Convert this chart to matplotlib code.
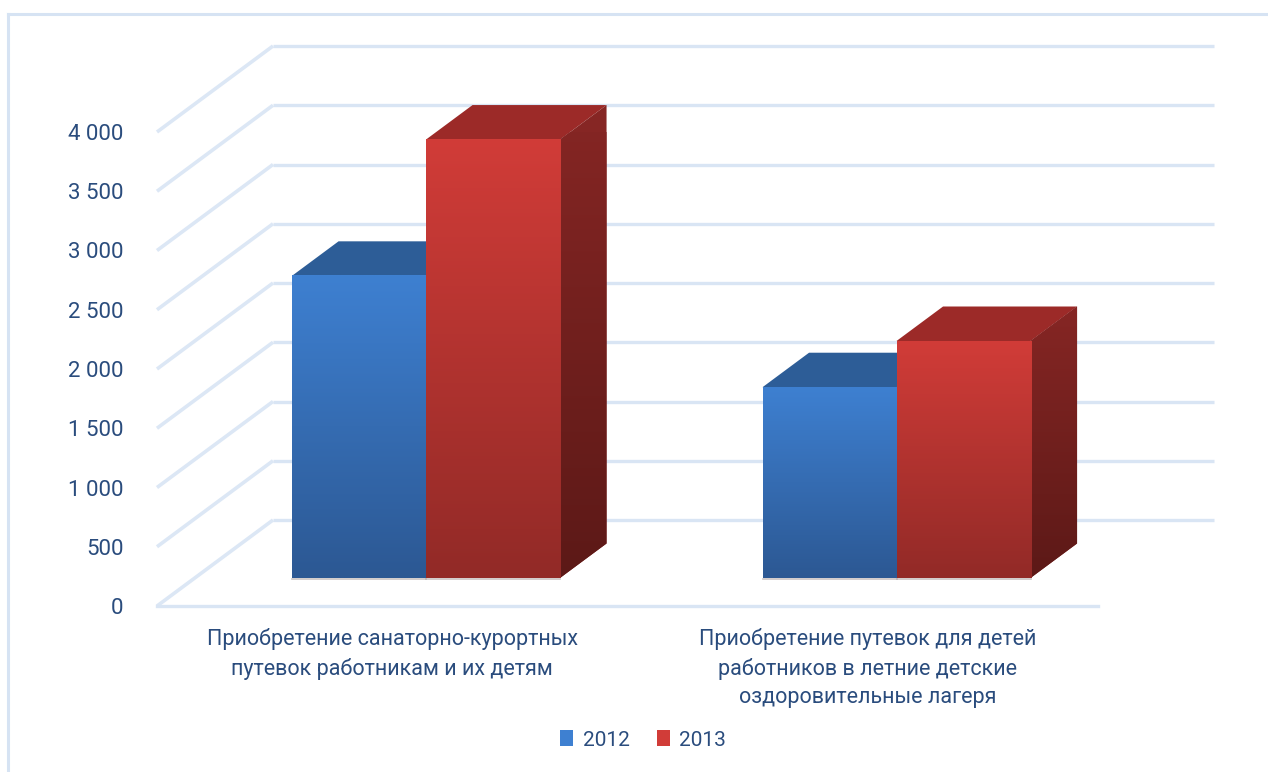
import numpy as np
import matplotlib
matplotlib.use("Agg")
import matplotlib.pyplot as plt
from matplotlib.patches import Polygon, Patch
from matplotlib.lines import Line2D
from matplotlib.colors import to_rgb

plt.rcParams["font.family"] = ["Roboto", "DejaVu Sans"]

# ---- data -------------------------------------------------------------
categories = [
    "Приобретение санаторно-курортных\nпутевок работникам и их детям",
    "Приобретение путевок для детей\nработников в летние детские\nоздоровительные лагеря",
]
years = ["2012", "2013"]
values_2012 = [2550, 1610]
values_2013 = [3700, 2000]
y_ticks = [0, 500, 1000, 1500, 2000, 2500, 3000, 3500, 4000]
y_tick_labels = ["0", "500", "1 000", "1 500", "2 000", "2 500", "3 000", "3 500", "4 000"]

# ---- styling ----------------------------------------------------------
TEXT = "#2A4C7D"
GRID = "#d9e5f4"
BLUE = {"top": "#2d5d97", "front_hi": "#3e80d1", "front_lo": "#2c5893"}
RED = {"top": "#9c2a28", "front_hi": "#d13c38", "front_lo": "#922a27",
       "side_hi": "#862624", "side_lo": "#5c1917"}

W, H = 1268, 772
fig = plt.figure(figsize=(W / 100, H / 100), dpi=100)
ax = fig.add_axes([157 / W, 166 / H, 941 / W, 474 / H])
ax.set_xlim(-0.5, 1.5)
ax.set_ylim(0, 4000)

# oblique depth projection expressed in data units of the front plane
px_per_x = 941 / 2.0
px_per_v = 474 / 4000
DX = 116 / px_per_x
DV = 86 / px_per_v


def proj(x, v, t):
    return x + t * DX, v + t * DV


# ---- walls ------------------------------------------------------------
for v in y_ticks:
    x0, y0 = proj(-0.5, v, 0)
    x1, y1 = proj(-0.5, v, 1)
    ax.plot([x0, x1], [y0, y1], color="#dce7f5", lw=2.6, clip_on=False, zorder=1,
            solid_capstyle="butt")
    xa, ya = proj(-0.5, v, 1)
    xb, yb = proj(1.5, v, 1)
    ax.plot([xa, xb], [ya, yb], color=GRID, lw=2.4, clip_on=False, zorder=1,
            solid_capstyle="butt")
ax.plot([-0.5, 1.5], [0, 0], color=GRID, lw=2.4, clip_on=False, zorder=1)


def gradient_fill(patch, extent, c_top, c_bot, z):
    n = 256
    a, b = np.array(to_rgb(c_top)), np.array(to_rgb(c_bot))
    f = np.linspace(0, 1, n)[:, None]
    img = (a * (1 - f) + b * f)[:, None, :]
    im = ax.imshow(img, extent=extent, aspect="auto", origin="upper",
                   zorder=z, interpolation="bilinear")
    im.set_clip_path(patch)
    im.set_clip_box(None)
    return im


# ---- bars -------------------------------------------------------------
t0 = 28 / 86
t1 = t0 + 34.5 / 86
w = 134 / px_per_x
base = t0 * DV
shift = -4 / px_per_x

for i in range(len(categories)):
    for k, (vals, col) in enumerate([(values_2012, BLUE), (values_2013, RED)]):
        v = vals[i]
        xl = i + shift - w + k * w
        xr = xl + w
        fx0 = xl + t0 * DX
        fx1 = xr + t0 * DX
        z = 3 + k
        # top face
        top = Polygon([proj(xl, v, t0), proj(xr, v, t0), proj(xr, v, t1), proj(xl, v, t1)],
                      closed=True, facecolor=col["top"], edgecolor="none",
                      clip_on=False, zorder=z)
        ax.add_patch(top)
        # right side face
        if "side_hi" in col:
            side = Polygon([proj(xr, 0, t0), proj(xr, 0, t1), proj(xr, v, t1), proj(xr, v, t0)],
                           closed=True, facecolor=col["side_hi"], edgecolor="none",
                           clip_on=False, zorder=z)
            ax.add_patch(side)
            gradient_fill(side, (fx1, fx1 + (t1 - t0) * DX, base, base + v + (t1 - t0) * DV),
                          col["side_hi"], col["side_lo"], z + 0.1)
        # front face
        bar = ax.bar(xl + w / 2 + t0 * DX, v, width=w, bottom=base,
                     color=col["front_lo"], edgecolor="none", zorder=z + 0.2)[0]
        gradient_fill(bar, (fx0, fx1, base, base + v), col["front_hi"], col["front_lo"],
                      z + 0.3)
        ax.plot([fx0, fx1], [base - 12, base - 12], color="#a89c9c", lw=1.2,
                alpha=0.6, zorder=z, clip_on=False)

ax.set_xlim(-0.5, 1.5)
ax.set_ylim(0, 4000)

# ---- axes text --------------------------------------------------------
for s in ax.spines.values():
    s.set_visible(False)
ax.set_yticks(y_ticks)
ax.set_yticklabels(y_tick_labels)
ax.set_xticks([0, 1.01])
ax.set_xticklabels(categories, linespacing=1.45)
ax.tick_params(axis="y", length=0, pad=24, labelsize=16, labelcolor=TEXT)
ax.tick_params(axis="x", length=0, pad=16, labelsize=15.5, labelcolor=TEXT)
ax.patch.set_visible(False)

# ---- legend -----------------------------------------------------------
handles = [Patch(facecolor=BLUE["front_hi"], edgecolor="none"),
           Patch(facecolor=RED["front_hi"], edgecolor="none")]
fig.legend(handles, years, loc="center", bbox_to_anchor=(643 / W, 1 - 740 / H),
           ncol=2, frameon=False, fontsize=15, handlelength=0.65, handleheight=0.8,
           handletextpad=0.45, columnspacing=1.3, labelcolor=TEXT)

# ---- outer frame ------------------------------------------------------
fig.add_artist(Line2D([8 / W, 8 / W], [0, 1 - 14 / H], transform=fig.transFigure,
                      color="#d6e3f3", lw=2.2))
fig.add_artist(Line2D([8 / W, 1], [1 - 14 / H, 1 - 14 / H], transform=fig.transFigure,
                      color="#d6e3f3", lw=2.2))

fig.savefig("out.png", dpi=100)
